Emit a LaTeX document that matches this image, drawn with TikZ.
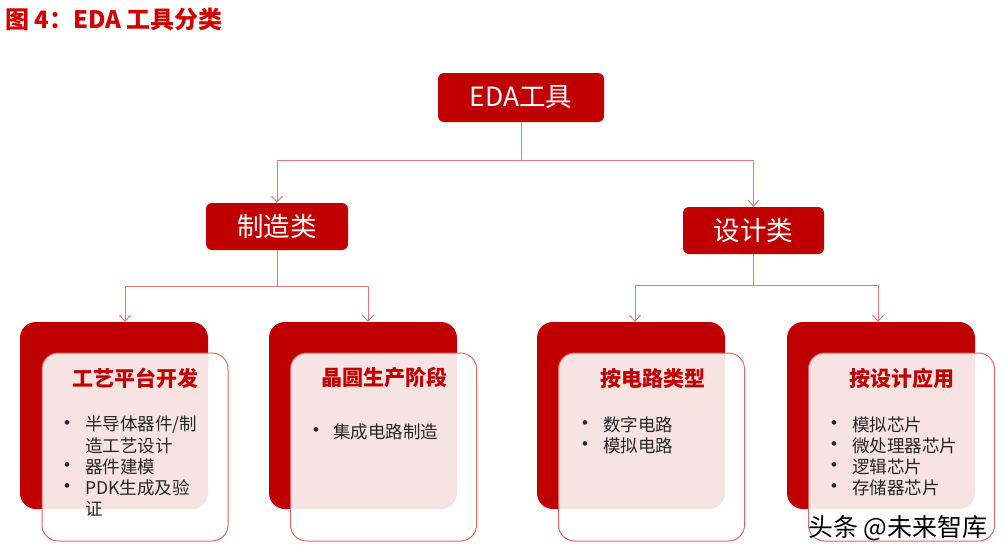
\documentclass[tikz,border=0pt]{standalone}
\usepackage{fontspec}
\setmainfont{Noto Sans CJK SC}
\newfontfamily\bulfont{Liberation Sans}
\usetikzlibrary{arrows.meta}
\definecolor{dred}{HTML}{C00000}
\definecolor{tred}{HTML}{D00000}
\definecolor{lred}{HTML}{DC7A7C}
\definecolor{bred}{HTML}{E06666}
\definecolor{txt}{HTML}{262626}
\begin{document}
\begin{tikzpicture}[x=1pt,y=-1pt,
  conn/.style={draw=lred, line width=1pt},
  arr/.style={conn, -{Straight Barb[length=6pt,width=11pt,line width=1pt]}},
  topbox/.style={fill=dred, rounded corners=6pt, text=white, inner sep=0pt,
    font=\fontsize{26.5}{30}\selectfont},
  backbox/.style={fill=dred, rounded corners=16pt, minimum width=188, minimum height=187, inner sep=0pt},
  frontbox/.style={fill=white, fill opacity=0.89, draw=bred, line width=1pt,
    rounded corners=16pt, minimum width=186, minimum height=188, inner sep=0pt},
  boxtitle/.style={text=dred, font=\fontsize{21}{25}\selectfont\bfseries, inner sep=0pt},
  bul/.style={text=txt, font=\bulfont\fontsize{17}{20}\selectfont, inner sep=0pt},
  item/.style={text=txt, font=\fontsize{17.5}{21}\selectfont, inner sep=0pt, anchor=west}
]
\useasboundingbox (0,0) rectangle (1006,557);

% title
\node[anchor=west, text=tred, font=\fontsize{24}{26}\selectfont\bfseries, inner sep=0pt] (title) at (5,19) {图 4：EDA 工具分类};

% level 1 and 2
\node[topbox, minimum width=166, minimum height=49] (eda) at (521,97.5) {EDA工具};
\node[topbox, minimum width=142, minimum height=47] (zhizao) at (277,226.5) {制造类};
\node[topbox, minimum width=141, minimum height=47] (sheji) at (753.5,230.5) {设计类};

% bottom boxes
\node[backbox] (b1) at (114,415.5) {};
\node[backbox] (b2) at (363,415.5) {};
\node[backbox] (b3) at (631,415.5) {};
\node[backbox] (b4) at (881,415.5) {};
\node[frontbox] (f1) at (135,447) {};
\node[frontbox] (f2) at (383.5,447) {};
\node[frontbox] (f3) at (651.5,447) {};
\node[frontbox] (f4) at (901.5,447) {};

% connectors
\coordinate (j0) at (521,160);
\draw[conn] (eda.south) -- (j0);
\draw[arr] (j0) -| (zhizao.north);
\draw[arr] (j0) -| (sheji.north);

\coordinate (j1) at (277,286);
\coordinate (t1) at (125,322);
\coordinate (t2) at (368,322);
\draw[conn] (zhizao.south) -- (j1);
\draw[arr] (j1) -| (t1);
\draw[arr] (j1) -| (t2);

\coordinate (j2) at (753.5,285);
\coordinate (t3) at (635,322);
\coordinate (t4) at (878,322);
\draw[conn] (sheji.south) -- (j2);
\draw[arr] (j2) -| (t3);
\draw[arr] (j2) -| (t4);

% box titles
\node[boxtitle] (h1) at (135,378) {工艺平台开发};
\node[boxtitle] (h2) at (384.5,378) {晶圆生产阶段};
\node[boxtitle] (h3) at (653,378) {按电路类型};
\node[boxtitle] (h4) at (901.5,378) {按设计应用};

% box 1 items
\node[bul] (p1a) at (67,425) {•};
\node[item] (i1a) at (85,425) {半导体器件/制};
\node[item] (i1b) at (85,446) {造工艺设计};
\node[bul] (p1c) at (67,467) {•};
\node[item] (i1c) at (85,467) {器件建模};
\node[bul] (p1d) at (67,488) {•};
\node[item] (i1d) at (85,488) {PDK生成及验};
\node[item] (i1e) at (85,509) {证};

% box 2 items
\node[bul] (p2a) at (316,432) {•};
\node[item] (i2a) at (333,432) {集成电路制造};

% box 3 items
\node[bul] (p3a) at (585,425) {•};
\node[item] (i3a) at (603,425) {数字电路};
\node[bul] (p3b) at (585,446) {•};
\node[item] (i3b) at (603,446) {模拟电路};

% box 4 items
\node[bul] (p4a) at (834,425) {•};
\node[item] (i4a) at (852,425) {模拟芯片};
\node[bul] (p4b) at (834,446) {•};
\node[item] (i4b) at (852,446) {微处理器芯片};
\node[bul] (p4c) at (834,467) {•};
\node[item] (i4c) at (852,467) {逻辑芯片};
\node[bul] (p4d) at (834,488) {•};
\node[item] (i4d) at (852,488) {存储器芯片};

% watermark
\node[text=black, font=\fontsize{25}{28}\selectfont, inner sep=0pt] (wm) at (898,528) {头条 @未来智库};
\end{tikzpicture}
\end{document}
